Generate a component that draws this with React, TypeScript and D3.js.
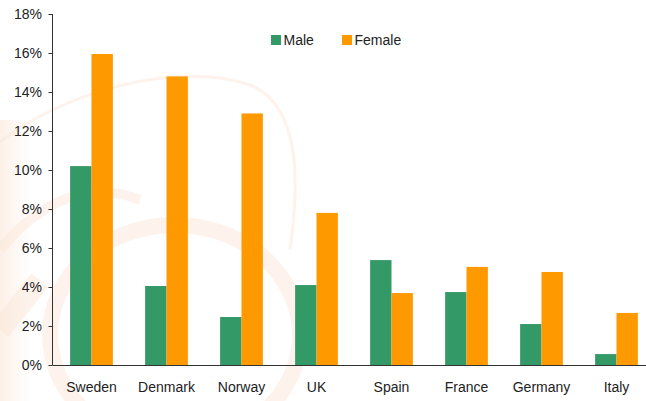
import React from "react";
import * as d3 from "d3";

const categories = ["Sweden", "Denmark", "Norway", "UK", "Spain", "France", "Germany", "Italy"];
const maleValues = [10.2, 4.05, 2.46, 4.1, 5.38, 3.74, 2.1, 0.56];
const femaleValues = [15.95, 14.8, 12.9, 7.8, 3.69, 5.03, 4.77, 2.67];
const seriesNames = ["Male", "Female"];
const yTicks = [0, 2, 4, 6, 8, 10, 12, 14, 16, 18];

const W = 646;
const H = 401;
const COLORS: Record<string, string> = { Male: "#339966", Female: "#FF9900" };
const FONT = "'Liberation Sans', Arial, sans-serif";

export default function App() {
  const x = d3.scaleBand<string>().domain(categories).range([54, 654]).paddingInner(0.43).paddingOuter(0.215);
  const xs = d3.scaleBand<string>().domain(seriesNames).range([0, x.bandwidth()]);
  const y = d3.scaleLinear().domain([0, 18]).range([365, 14]);
  const valuesBy: Record<string, number[]> = { Male: maleValues, Female: femaleValues };
  const axisX = 52.5;
  const baseY = Math.round(y(0)) + 0.5;

  return (
    <svg width={W} height={H} style={{ position: "absolute", left: 0, top: 0, background: "#fff" }} fontFamily={FONT}>
      <defs>
        <linearGradient id="fadeLeft" x1="0" x2="1" y1="0" y2="0">
          <stop offset="0" stopColor="#fbe6d6" stopOpacity={0.6} />
          <stop offset="1" stopColor="#fbe6d6" stopOpacity={0} />
        </linearGradient>
      </defs>
      {/* faint watermark decoration */}
      <g fill="none" stroke="#fbe6d6" opacity={0.45}>
        <ellipse cx={175} cy={335} rx={125} ry={110} strokeWidth={16} />
        <path d="M -10 150 C 60 90 180 60 250 85 C 300 105 300 180 290 250" strokeWidth={3} />
        <path d="M 0 250 C 40 200 90 180 140 200" strokeWidth={10} />
        <path d="M 0 330 L 40 280" strokeWidth={22} />
      </g>
      <rect x={0} y={120} width={30} height={281} fill="url(#fadeLeft)" />

      {/* bars */}
      {categories.map((c, i) => (
        <g key={c} transform={`translate(${x(c)},0)`}>
          {seriesNames.map((s) => {
            const v = valuesBy[s][i];
            return (
              <rect
                key={s}
                x={xs(s)}
                y={y(v)}
                width={xs.bandwidth()}
                height={y(0) - y(v)}
                fill={COLORS[s]}
              />
            );
          })}
        </g>
      ))}

      {/* y axis */}
      <line x1={axisX} x2={axisX} y1={y(18)} y2={y(0)} stroke="#333" strokeWidth={1} />
      {yTicks.map((t) => (
        <g key={t}>
          <line x1={axisX - 4} x2={axisX} y1={Math.round(y(t)) + 0.5} y2={Math.round(y(t)) + 0.5} stroke="#333" />
          <text x={42} y={y(t)} dy="0.35em" textAnchor="end" fontSize={14} fill="#222">
            {t}%
          </text>
        </g>
      ))}

      {/* x axis */}
      <line x1={axisX} x2={W} y1={baseY} y2={baseY} stroke="#333" strokeWidth={1} />
      {categories.map((c) => (
        <text key={c} x={(x(c) ?? 0) + x.bandwidth() / 2} y={392} textAnchor="middle" fontSize={14} fill="#222">
          {c}
        </text>
      ))}

      {/* legend */}
      {seriesNames.map((s, i) => {
        const lx = [271, 342][i];
        return (
          <g key={s}>
            <rect x={lx} y={35} width={10} height={10} fill={COLORS[s]} />
            <text x={lx + 12.5} y={45} fontSize={14} fill="#222">
              {s}
            </text>
          </g>
        );
      })}
    </svg>
  );
}
